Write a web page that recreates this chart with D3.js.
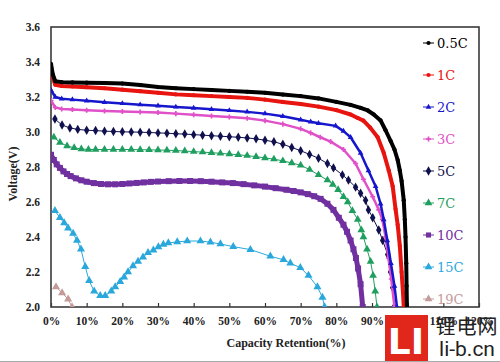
<!DOCTYPE html>
<html>
<head>
<meta charset="utf-8">
<script src="https://cdn.jsdelivr.net/npm/d3@7"></script>
<style>
  body { margin: 0; background: #fff; }
  svg { display: block; }
</style>
</head>
<body>
<div id="chart"></div>
<script>
// rates shown in the legend
var rates = ["0.5C", "1C", "2C", "3C", "5C", "7C", "10C", "15C", "19C"];
var colors = ["#000000", "#e8140f", "#1616cc", "#e050c8", "#10104e", "#1f9f5f", "#7030a0", "#2aa8dc", "#c49a9a"];

// [capacity retention %, voltage V]
var c05 = [[0,3.39],[0.5,3.33],[1.2,3.29],[3,3.285],[6,3.283],[10,3.282],[15,3.28],[20,3.277],[25,3.268],[30,3.257],[35,3.25],[40,3.245],[45,3.24],[50,3.235],[55,3.23],[60,3.224],[65,3.214],[70,3.205],[75,3.192],[80,3.172],[84,3.155],[86.8,3.138],[88.8,3.123],[90.5,3.1],[92.4,3.066],[93.8,3.01],[95.2,2.95],[96.3,2.9],[97.2,2.84],[97.8,2.78],[98.3,2.72],[98.9,2.61],[99.2,2.5],[99.4,2.4],[99.6,2.25],[99.7,2.12],[99.8,2.0]];
var c1 = [[0,3.37],[0.5,3.31],[1.2,3.27],[3,3.263],[6,3.26],[10,3.256],[15,3.25],[20,3.242],[25,3.233],[30,3.224],[35,3.215],[40,3.21],[45,3.205],[50,3.2],[55,3.195],[60,3.185],[65,3.172],[70,3.16],[75,3.145],[80,3.125],[84,3.1],[86,3.08],[87.6,3.065],[89.5,3.025],[91.6,2.97],[93.3,2.88],[94.7,2.78],[95.8,2.69],[96.6,2.56],[97.2,2.47],[97.8,2.35],[98.3,2.2],[98.7,2.08],[98.9,2.0]];
var c2 = [[0,3.24],[1.2,3.2],[3,3.19],[6,3.185],[10,3.178],[15,3.17],[20,3.163],[25,3.156],[30,3.15],[35,3.143],[40,3.137],[45,3.13],[50,3.123],[55,3.115],[60,3.105],[65,3.09],[70,3.07],[72.8,3.058],[75,3.05],[79.8,3.035],[82,3.005],[84,2.97],[86.8,2.88],[89,2.78],[91,2.69],[92.4,2.59],[93.3,2.5],[94.3,2.38],[95.3,2.25],[96.3,2.12],[97,2.0]];
var c3 = [[0,3.18],[1.2,3.14],[3,3.132],[6,3.128],[10,3.124],[15,3.12],[20,3.117],[25,3.114],[30,3.111],[35,3.105],[40,3.098],[45,3.092],[50,3.086],[55,3.079],[60,3.065],[65,3.045],[70,3.018],[72.8,2.995],[75.5,2.97],[78.4,2.945],[82,2.9],[85.4,2.82],[87.6,2.73],[90.2,2.63],[91.9,2.555],[92.9,2.5],[93.8,2.4],[94.6,2.28],[95.4,2.16],[96.3,2.0]];
var c5 = [[1.1,3.074],[3.1,3.04],[5.3,3.023],[7.5,3.015],[10,3.01],[12.5,3.008],[15,3.005],[17.5,3.003],[20,3.001],[22.5,3.0],[25,2.999],[27.5,2.997],[30,2.995],[32.5,2.993],[35,2.99],[37.5,2.988],[40,2.985],[42.5,2.982],[45,2.979],[47.5,2.976],[50,2.973],[52.5,2.97],[55,2.966],[57.5,2.961],[60,2.953],[62.5,2.944],[65,2.93],[67.5,2.912],[70,2.893],[72.5,2.872],[75,2.85],[77.5,2.82],[79.2,2.795],[81.7,2.755],[83.4,2.725],[85.4,2.685],[86.8,2.65],[88.2,2.61],[89,2.555],[90.2,2.51],[91.9,2.44],[93,2.38],[94.4,2.3],[95.2,2.2],[95.8,2.11],[96.2,2.0]];
var c7 = [[0.8,2.97],[2.5,2.94],[4.5,2.92],[6.5,2.91],[8.5,2.903],[10.5,2.9],[12.5,2.9],[15,2.9],[17.5,2.9],[20,2.9],[22.5,2.9],[25,2.899],[27.5,2.898],[30,2.897],[32.5,2.896],[35,2.894],[37.5,2.891],[40,2.888],[42.5,2.885],[45,2.882],[47.5,2.878],[50,2.874],[52.5,2.87],[55,2.865],[57.5,2.859],[60,2.852],[62.5,2.845],[65,2.835],[67.5,2.823],[70,2.81],[72.5,2.785],[75,2.755],[77.5,2.725],[79,2.7],[80.5,2.67],[82,2.63],[83.2,2.6],[84.5,2.55],[86,2.5],[87,2.44],[87.6,2.4],[88.6,2.33],[89.6,2.26],[90.3,2.18],[90.9,2.09],[91.4,2.0]];
var c10 = [[0,2.87],[0.8,2.84],[1.6,2.815],[2.5,2.795],[3.5,2.775],[4.5,2.76],[5.5,2.748],[7,2.735],[8.5,2.724],[10,2.716],[12,2.708],[14,2.703],[16,2.701],[18,2.701],[20,2.703],[22,2.706],[24,2.709],[26,2.712],[28,2.715],[30,2.717],[33,2.719],[36,2.72],[39,2.72],[42,2.719],[45,2.716],[48,2.712],[51,2.708],[54,2.702],[57,2.695],[60,2.688],[63,2.679],[66,2.67],[68,2.663],[70,2.655],[72,2.645],[73.8,2.633],[75.6,2.618],[77.5,2.59],[79.2,2.555],[80.7,2.51],[82,2.47],[83,2.43],[84,2.38],[84.8,2.33],[85.5,2.28],[86.1,2.22],[86.8,2.13],[87.4,2.0]];
var c15 = [[1.1,2.55],[2.5,2.51],[3.7,2.48],[4.8,2.45],[6.2,2.42],[7.3,2.38],[8.4,2.33],[9.6,2.23],[10.7,2.15],[12.1,2.09],[13.8,2.065],[15.2,2.065],[16.9,2.09],[18,2.115],[19.4,2.145],[20.5,2.17],[21.6,2.2],[23,2.235],[24.4,2.26],[25.8,2.285],[27.2,2.31],[28.7,2.325],[30.1,2.343],[31.5,2.358],[32.9,2.366],[35.4,2.372],[38.2,2.377],[41.9,2.377],[44.7,2.37],[47.5,2.36],[51.1,2.345],[55.9,2.328],[61.5,2.29],[65.2,2.27],[67.1,2.25],[69.9,2.225],[72.2,2.18],[74.7,2.115],[76.1,2.055],[76.7,2.0]];
var c19 = [[1.4,2.115],[3.1,2.08],[4.8,2.045],[5.9,2.0]];

var seriesData = [c05, c1, c2, c3, c5, c7, c10, c15, c19];
var yTicks = [2.0, 2.2, 2.4, 2.6, 2.8, 3.0, 3.2, 3.4, 3.6];
var xTicks = [0, 10, 20, 30, 40, 50, 60, 70, 80, 90, 100, 110, 120];

// look of each series
var styles = [
    { sym: d3.symbolCircle,   size: 14, lw: 4 },
    { sym: d3.symbolCircle,   size: 14, lw: 4 },
    { sym: d3.symbolTriangle, size: 14, lw: 2.5 },
    { sym: d3.symbolCross,    size: 14, lw: 2.5 },
    { sym: d3.symbolDiamond,  size: 26, lw: 1 },
    { sym: d3.symbolTriangle, size: 26, lw: 1 },
    { sym: d3.symbolSquare,   size: 36, lw: 5 },
    { sym: d3.symbolTriangle, size: 28, lw: 1 },
    { sym: d3.symbolTriangle, size: 28, lw: 1 }
];

var margin = { top: 27, right: 21, bottom: 55, left: 51 };
var width = 500 - margin.left - margin.right;
var height = 362 - margin.top - margin.bottom;

var svg = d3.select("#chart")
    .append("svg")
    .attr("width", 500)
    .attr("height", 362);

var g = svg.append("g")
    .attr("transform", "translate(" + margin.left + "," + margin.top + ")");

var x = d3.scaleLinear().domain([0, 120]).range([0, width]);
var y = d3.scaleLinear().domain([2.0, 3.6]).range([height, 0]);

g.append("clipPath")
    .attr("id", "plot-clip")
    .append("rect")
    .attr("x", 0).attr("y", -2)
    .attr("width", width).attr("height", height + 2);

// x axis, ticks pointing inward
var xAxis = g.append("g")
    .attr("transform", "translate(0," + height + ")")
    .call(d3.axisBottom(x).tickValues(xTicks).tickSizeInner(-4).tickSizeOuter(0).tickPadding(10)
        .tickFormat(function (d) { return d + "%"; }));

var yAxis = g.append("g")
    .call(d3.axisLeft(y).tickValues(yTicks).tickSize(0).tickPadding(11)
        .tickFormat(d3.format(".1f")));

[xAxis, yAxis].forEach(function (ax) {
    ax.select(".domain").remove();
    ax.selectAll("line").attr("stroke", "#333").attr("stroke-width", 1.2);
    ax.selectAll("text")
        .attr("fill", "#222")
        .style("font-family", "'Liberation Serif', serif")
        .style("font-weight", "bold")
        .style("font-size", "11.5px");
});

// frame around the plot
g.append("rect")
    .attr("width", width)
    .attr("height", height)
    .attr("fill", "none")
    .attr("stroke", "#3a3a3a")
    .attr("stroke-width", 1.6);

var line = d3.line()
    .x(function (d) { return x(d[0]); })
    .y(function (d) { return y(d[1]); });

var plot = g.append("g").attr("clip-path", "url(#plot-clip)");

// draw from the lowest rate upward so the top curves sit on top
for (var i = seriesData.length - 1; i >= 0; i--) {
    var s = styles[i];
    var grp = plot.append("g");
    grp.append("path")
        .datum(seriesData[i])
        .attr("fill", "none")
        .attr("stroke", colors[i])
        .attr("stroke-width", s.lw)
        .attr("stroke-linejoin", "round")
        .attr("d", line);
    grp.selectAll(".pt")
        .data(seriesData[i])
        .enter()
        .append("path")
        .attr("class", "pt")
        .attr("transform", function (d) { return "translate(" + x(d[0]) + "," + y(d[1]) + ")"; })
        .attr("d", d3.symbol().type(s.sym).size(s.size))
        .attr("fill", colors[i]);
}

// legend
var legend = g.append("g").attr("transform", "translate(" + (423 - margin.left) + ",0)");
rates.forEach(function (r, i) {
    var ly = 43 - margin.top + i * 32;
    var item = legend.append("g").attr("transform", "translate(0," + ly + ")");
    item.append("line")
        .attr("x1", 0).attr("x2", 11)
        .attr("stroke", colors[i])
        .attr("stroke-width", 1);
    item.append("path")
        .attr("transform", "translate(5.5,0)")
        .attr("d", d3.symbol().type(styles[i].sym).size(Math.min(styles[i].size, 26)))
        .attr("fill", colors[i]);
    item.append("text")
        .attr("x", 14)
        .attr("dy", "0.36em")
        .attr("fill", colors[i])
        .style("font-family", "'DejaVu Serif', serif")
        .style("font-size", "13px")
        .text(r);
});

// axis titles
svg.append("text")
    .attr("transform", "translate(17," + (margin.top + height / 2 + 7) + ") rotate(-90)")
    .attr("text-anchor", "middle")
    .attr("fill", "#222")
    .style("font-family", "'Liberation Serif', serif")
    .style("font-weight", "bold")
    .style("font-size", "12px")
    .text("Voltage(V)");

svg.append("text")
    .attr("x", 286)
    .attr("y", 347)
    .attr("text-anchor", "middle")
    .attr("fill", "#222")
    .style("font-family", "'Liberation Serif', serif")
    .style("font-weight", "bold")
    .style("font-size", "12px")
    .text("Capacity Retention(%)");

// watermark in the lower right corner
var wm = svg.append("g");
wm.append("rect")
    .attr("x", 385).attr("y", 315)
    .attr("width", 43).attr("height", 47)
    .attr("fill", "#e1261c");
wm.append("text")
    .attr("x", 406).attr("y", 354)
    .attr("text-anchor", "middle")
    .attr("fill", "#fff")
    .style("font-family", "'DejaVu Sans', sans-serif")
    .style("font-weight", "bold")
    .style("font-size", "36px")
    .text("LI");
wm.append("text")
    .attr("x", 467).attr("y", 334)
    .attr("text-anchor", "middle")
    .attr("fill", "#222")
    .style("font-family", "'Noto Sans CJK SC', sans-serif")
    .style("font-size", "20px")
    .style("letter-spacing", "1px")
    .text("锂电网");
wm.append("text")
    .attr("x", 467).attr("y", 356)
    .attr("text-anchor", "middle")
    .attr("fill", "#222")
    .style("font-family", "Roboto, sans-serif")
    .style("font-size", "21px")
    .text("li-b.cn");

svg.append("line")
    .attr("x1", 0).attr("x2", 500)
    .attr("y1", 361.5).attr("y2", 361.5)
    .attr("stroke", "#aaa");
</script>
</body>
</html>
